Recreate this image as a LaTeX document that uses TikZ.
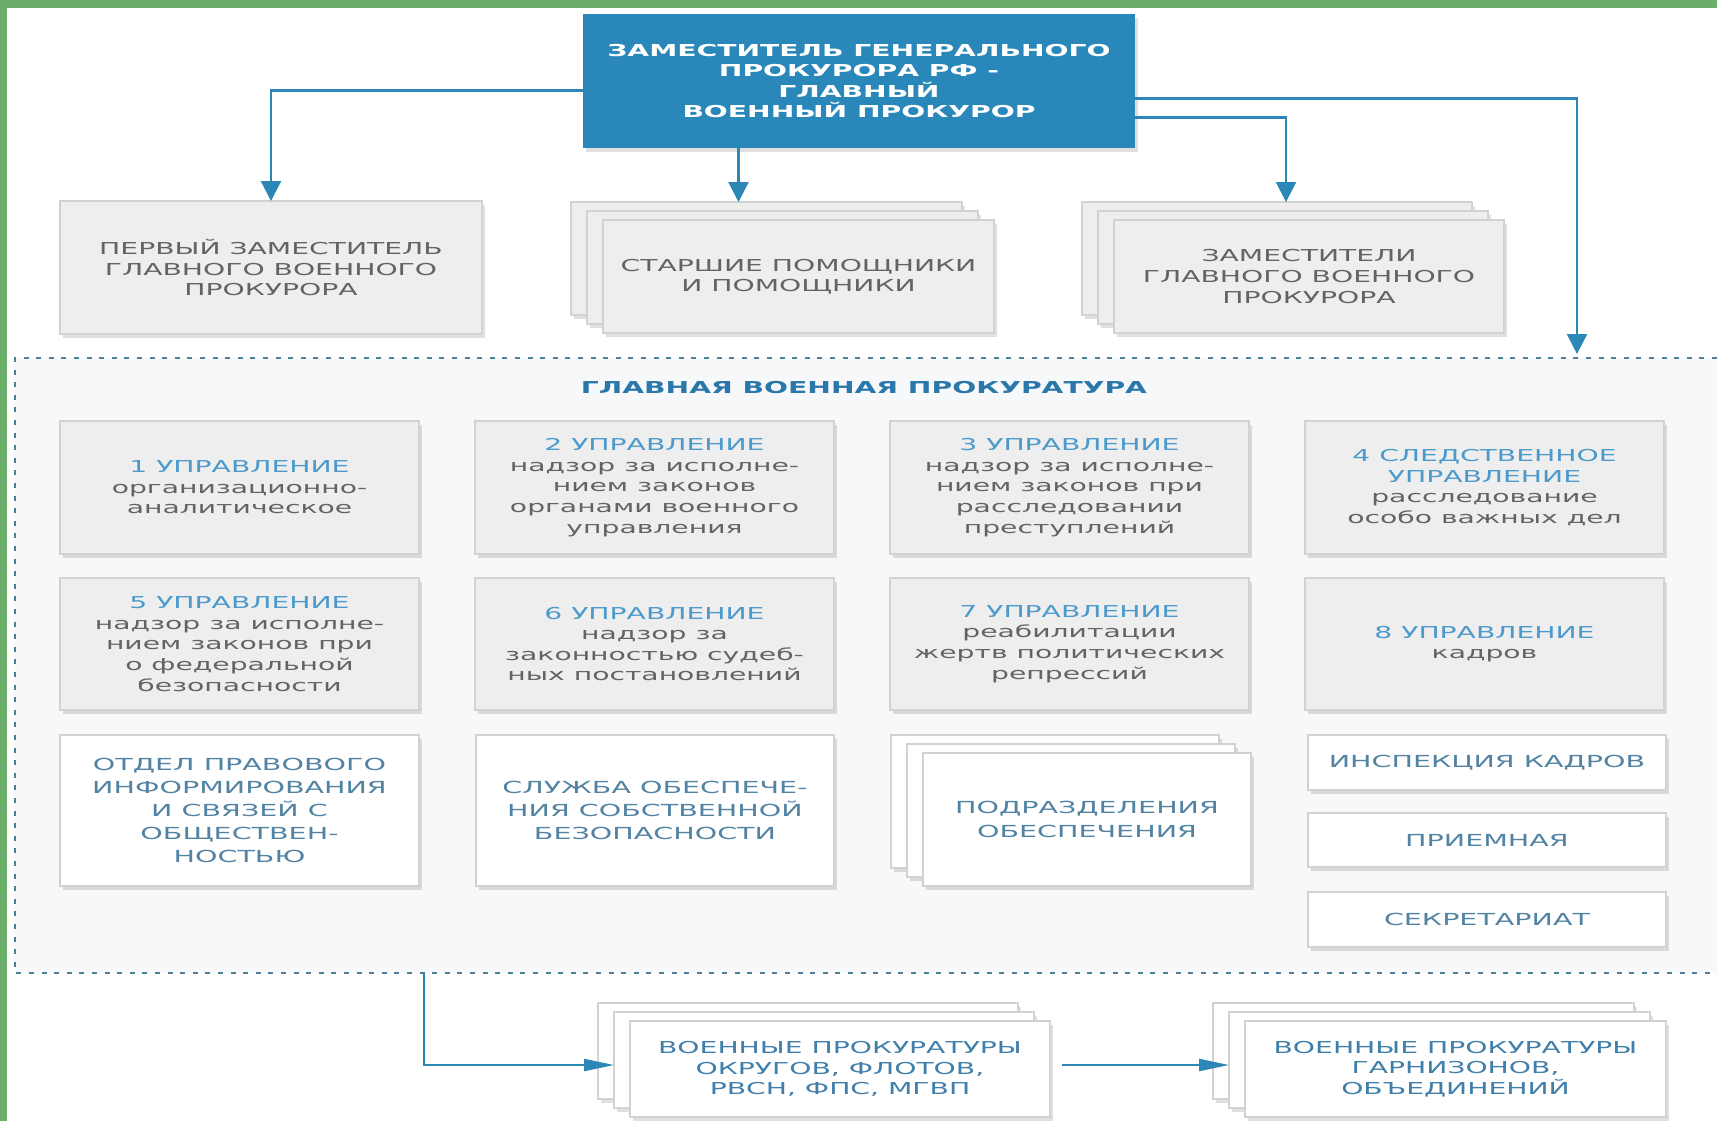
\documentclass[tikz,border=0pt]{standalone}
\usepackage{fontspec}
\setmainfont{DejaVu Sans}[FakeStretch=1.72]
\usetikzlibrary{arrows.meta,shadows,calc}
\definecolor{ablue}{HTML}{2C86B6}
\definecolor{topfill}{HTML}{2A87B9}
\definecolor{framecol}{HTML}{4A7F98}
\definecolor{framebg}{HTML}{F7F8FA}
\definecolor{gfill}{HTML}{EEEEEE}
\definecolor{gdraw}{HTML}{D2D2D2}
\definecolor{gtext}{HTML}{636363}
\definecolor{hblue}{HTML}{4C9ACB}
\definecolor{slate}{HTML}{5283A3}
\definecolor{btext}{HTML}{3F7FAA}
\definecolor{titleblue}{HTML}{2A78AA}
\definecolor{greenbar}{HTML}{6AAE6A}
\newcommand\mkbox[7]{%
  \node[#6, minimum width={((#4)-(#2))*0.5pt}, minimum height={((#5)-(#3))*0.5pt}] (#1) at ({((#2)+(#4))/2},{((#3)+(#5))/2}) {#7};}
\newcommand\mkstack[7]{%
  \mkbox{#1b}{#2-32}{#3-18}{#4-32}{#5-18}{#6}{}
  \mkbox{#1m}{#2-16}{#3-9}{#4-16}{#5-9}{#6}{}
  \mkbox{#1}{#2}{#3}{#4}{#5}{#6}{#7}}
\tikzset{
  base/.style={rectangle, inner sep=0pt, outer sep=0pt, align=center,
    font=\fontsize{8.2pt}{10.3pt}\selectfont,
    drop shadow={shadow xshift=1.6pt, shadow yshift=-2pt, fill=black, opacity=0.12}},
  gbox/.style={base, fill=gfill, draw=gdraw, line width=0.6pt, text=gtext},
  wbox/.style={base, fill=white, draw=gdraw, line width=0.6pt, text=slate,
    font=\fontsize{8.3pt}{11.6pt}\selectfont},
  bbox/.style={base, fill=white, draw=gdraw, line width=0.6pt, text=btext,
    font=\fontsize{8.2pt}{10.4pt}\selectfont},
  topbox/.style={base, fill=topfill, draw=none, text=white,
    font=\fontsize{8.2pt}{10.3pt}\selectfont\bfseries},
  arr/.style={draw=ablue, line width=1.1pt, -{Triangle[width=10pt,length=10pt]}},
  harr/.style={draw=ablue, line width=1.1pt, -{Triangle[width=6pt,length=15pt]}},
}
\newcommand\hd[1]{{\color{hblue}#1}}
\begin{document}
\begin{tikzpicture}[x=0.5pt,y=-0.5pt]
\useasboundingbox (0,0) rectangle (1717,1121);
\fill[white] (0,0) rectangle (1717,1121);
% green border
\fill[greenbar] (0,0) rectangle (1717,8);
\fill[greenbar] (0,0) rectangle (7,1121);
% frame
\fill[framebg] (15,358) rectangle (1717,973);
\draw[framecol, line width=0.75pt, dash pattern=on 2.5pt off 3.8pt] (1717,358) -- (15,358) -- (15,973) -- (1717,973);
\coordinate (frameTop) at (1577,354);
\coordinate (frameBot) at (424,973);
\node[font=\fontsize{8.2pt}{10pt}\selectfont\bfseries, text=titleblue] (title) at (864,388) {ГЛАВНАЯ ВОЕННАЯ ПРОКУРАТУРА};
% top box
\mkbox{top}{583}{14}{1135}{148}{topbox}{ЗАМЕСТИТЕЛЬ ГЕНЕРАЛЬНОГО\\ПРОКУРОРА РФ -\\ГЛАВНЫЙ\\ВОЕННЫЙ ПРОКУРОР}
% row of deputies
\mkbox{A}{60}{201}{482}{334}{gbox}{ПЕРВЫЙ ЗАМЕСТИТЕЛЬ\\ГЛАВНОГО ВОЕННОГО\\ПРОКУРОРА}
\mkstack{B}{603}{220}{994}{333}{gbox}{СТАРШИЕ ПОМОЩНИКИ\\И ПОМОЩНИКИ}
\mkstack{C}{1114}{220}{1504}{333}{gbox}{ЗАМЕСТИТЕЛИ\\ГЛАВНОГО ВОЕННОГО\\ПРОКУРОРА}
% grid
\mkbox{u1}{60}{421}{419}{554}{gbox}{\hd{1 УПРАВЛЕНИЕ}\\организационно-\\аналитическое}
\mkbox{u2}{475}{421}{834}{554}{gbox}{\hd{2 УПРАВЛЕНИЕ}\\надзор за исполне-\\нием законов\\органами военного\\управления}
\mkbox{u3}{890}{421}{1249}{554}{gbox}{\hd{3 УПРАВЛЕНИЕ}\\надзор за исполне-\\нием законов при\\расследовании\\преступлений}
\mkbox{u4}{1305}{421}{1664}{554}{gbox}{\hd{4 СЛЕДСТВЕННОЕ}\\\hd{УПРАВЛЕНИЕ}\\расследование\\особо важных дел}
\mkbox{u5}{60}{578}{419}{710}{gbox}{\hd{5 УПРАВЛЕНИЕ}\\надзор за исполне-\\нием законов при\\о федеральной\\безопасности}
\mkbox{u6}{475}{578}{834}{710}{gbox}{\hd{6 УПРАВЛЕНИЕ}\\надзор за\\законностью судеб-\\ных постановлений}
\mkbox{u7}{890}{578}{1249}{710}{gbox}{\hd{7 УПРАВЛЕНИЕ}\\реабилитации\\жертв политических\\репрессий}
\mkbox{u8}{1305}{578}{1664}{710}{gbox}{\hd{8 УПРАВЛЕНИЕ}\\кадров}
% row 3
\mkbox{otd}{60}{735}{419}{886}{wbox}{ОТДЕЛ ПРАВОВОГО\\ИНФОРМИРОВАНИЯ\\И СВЯЗЕЙ С\\ОБЩЕСТВЕН-\\НОСТЬЮ}
\mkbox{sl}{476}{735}{834}{886}{wbox}{СЛУЖБА ОБЕСПЕЧЕ-\\НИЯ СОБСТВЕННОЙ\\БЕЗОПАСНОСТИ}
\mkstack{pod}{923}{753}{1251}{886}{wbox}{ПОДРАЗДЕЛЕНИЯ\\ОБЕСПЕЧЕНИЯ}
\mkbox{ins}{1308}{735}{1666}{790}{wbox}{ИНСПЕКЦИЯ КАДРОВ}
\mkbox{pri}{1308}{813}{1666}{867}{wbox}{ПРИЕМНАЯ}
\mkbox{sek}{1308}{892}{1666}{947}{wbox}{СЕКРЕТАРИАТ}
% bottom
\mkstack{O}{630}{1021}{1050}{1117}{bbox}{ВОЕННЫЕ ПРОКУРАТУРЫ\\ОКРУГОВ, ФЛОТОВ,\\РВСН, ФПС, МГВП}
\mkstack{G}{1245}{1021}{1666}{1117}{bbox}{ВОЕННЫЕ ПРОКУРАТУРЫ\\ГАРНИЗОНОВ,\\ОБЪЕДИНЕНИЙ}
% connectors
\coordinate (Bin) at ($(Bb.north)+(-28,0)$);
\draw[arr] ([yshift=-4.75pt]top.west) -| (A.north);
\draw[arr] (top.south -| Bin) -- (Bin);
\draw[arr] ([yshift=-18.25pt]top.east) -| ([xshift=4.5pt]Cb.north);
\draw[arr] ([yshift=-8.75pt]top.east) -| (frameTop);
\draw[harr] (frameBot) |- ([yshift=-2.5pt]Om.west);
\draw[harr] ([xshift=6pt,yshift=2pt]O.east) -- ([yshift=-2.5pt]Gm.west);
\end{tikzpicture}
\end{document}
